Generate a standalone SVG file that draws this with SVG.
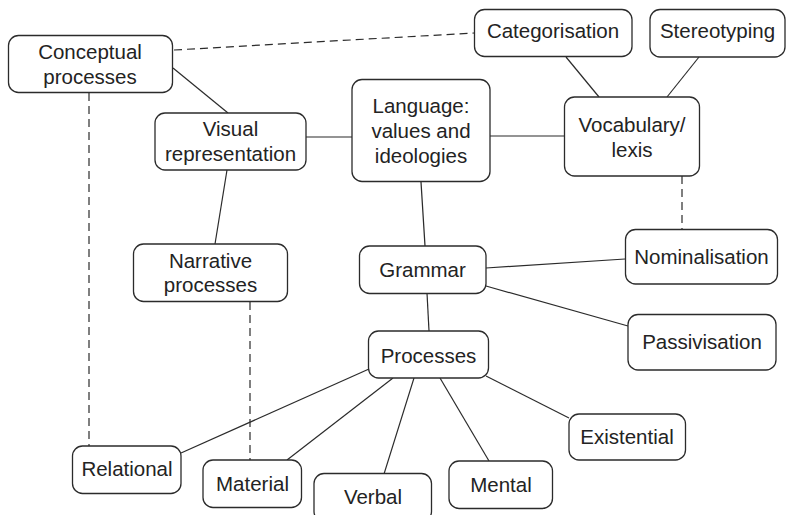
<svg xmlns="http://www.w3.org/2000/svg" width="786" height="515" viewBox="0 0 786 515">
  <style>
    .box { fill: #ffffff; stroke: #2b2b2b; stroke-width: 1.3; }
    .lbl { font-family: "Liberation Sans", Arial, sans-serif; font-size: 20.5px; fill: #232323; text-anchor: middle; }
    .link { stroke: #2b2b2b; stroke-width: 1.2; fill: none; }
    .dash { stroke-dasharray: 8 5; }
  </style>
  <rect width="786" height="515" fill="#ffffff"/>

  <g id="connectors">
    <line class="link dash" x1="174" y1="50" x2="474" y2="33"/>
    <line class="link" x1="173" y1="68" x2="228" y2="113"/>
    <line class="link dash" x1="89" y1="93" x2="89" y2="446"/>
    <line class="link" x1="306" y1="137" x2="352" y2="137"/>
    <line class="link" x1="227" y1="170" x2="215" y2="244"/>
    <line class="link" x1="490" y1="136" x2="564" y2="136"/>
    <line class="link" x1="566" y1="57" x2="599" y2="97"/>
    <line class="link" x1="699" y1="57" x2="667" y2="97"/>
    <line class="link dash" x1="682" y1="176" x2="682" y2="229"/>
    <line class="link" x1="421" y1="182" x2="425" y2="246"/>
    <line class="link" x1="486" y1="268" x2="625" y2="259"/>
    <line class="link" x1="486" y1="286" x2="628" y2="326"/>
    <line class="link" x1="427" y1="293" x2="429" y2="331"/>
    <line class="link dash" x1="250" y1="302" x2="250" y2="460"/>
    <line class="link" x1="369" y1="369" x2="181" y2="453"/>
    <line class="link" x1="393" y1="378" x2="287" y2="460"/>
    <line class="link" x1="414" y1="378" x2="384" y2="474"/>
    <line class="link" x1="440" y1="378" x2="489" y2="461"/>
    <line class="link" x1="486" y1="376" x2="569" y2="418"/>
  </g>

  <g id="conceptual">
    <rect class="box" x="8.5" y="35.5" width="164" height="57" rx="10"/>
    <text class="lbl" x="90" y="59">Conceptual</text>
    <text class="lbl" x="90" y="84">processes</text>
  </g>
  <g id="visual">
    <rect class="box" x="155" y="113" width="151" height="57" rx="10"/>
    <text class="lbl" x="230.5" y="136">Visual</text>
    <text class="lbl" x="230.5" y="161">representation</text>
  </g>
  <g id="language">
    <rect class="box" x="352" y="79.5" width="138" height="102" rx="10"/>
    <text class="lbl" x="421" y="113">Language:</text>
    <text class="lbl" x="421" y="138">values and</text>
    <text class="lbl" x="421" y="163">ideologies</text>
  </g>
  <g id="categorisation">
    <rect class="box" x="474.5" y="9.5" width="157.5" height="47" rx="10"/>
    <text class="lbl" x="553" y="38">Categorisation</text>
  </g>
  <g id="stereotyping">
    <rect class="box" x="650" y="9.5" width="135" height="47.5" rx="10"/>
    <text class="lbl" x="717.5" y="38">Stereotyping</text>
  </g>
  <g id="vocabulary">
    <rect class="box" x="564.5" y="97" width="135" height="79" rx="10"/>
    <text class="lbl" x="632" y="132">Vocabulary/</text>
    <text class="lbl" x="632" y="157">lexis</text>
  </g>
  <g id="narrative">
    <rect class="box" x="133.5" y="244" width="154" height="57.5" rx="10"/>
    <text class="lbl" x="210.5" y="267.5">Narrative</text>
    <text class="lbl" x="210.5" y="292">processes</text>
  </g>
  <g id="grammar">
    <rect class="box" x="359.5" y="246" width="126.5" height="47.5" rx="10"/>
    <text class="lbl" x="422.5" y="277">Grammar</text>
  </g>
  <g id="nominalisation">
    <rect class="box" x="625.5" y="229.5" width="152" height="54.5" rx="10"/>
    <text class="lbl" x="701.5" y="263.5">Nominalisation</text>
  </g>
  <g id="passivisation">
    <rect class="box" x="628" y="314.5" width="148" height="55.5" rx="10"/>
    <text class="lbl" x="702" y="349">Passivisation</text>
  </g>
  <g id="processes">
    <rect class="box" x="368.5" y="331" width="120" height="47" rx="10"/>
    <text class="lbl" x="428.5" y="362.5">Processes</text>
  </g>
  <g id="existential">
    <rect class="box" x="569" y="414" width="116.5" height="46" rx="10"/>
    <text class="lbl" x="627" y="443.5">Existential</text>
  </g>
  <g id="relational">
    <rect class="box" x="72.5" y="446" width="108.5" height="47.5" rx="10"/>
    <text class="lbl" x="127" y="476">Relational</text>
  </g>
  <g id="material">
    <rect class="box" x="203" y="460" width="98.5" height="47.5" rx="10"/>
    <text class="lbl" x="252.5" y="491">Material</text>
  </g>
  <g id="verbal">
    <rect class="box" x="314" y="473.5" width="117.5" height="48" rx="10"/>
    <text class="lbl" x="373" y="504">Verbal</text>
  </g>
  <g id="mental">
    <rect class="box" x="449" y="461" width="103.5" height="47.5" rx="10"/>
    <text class="lbl" x="501" y="492">Mental</text>
  </g>
</svg>
